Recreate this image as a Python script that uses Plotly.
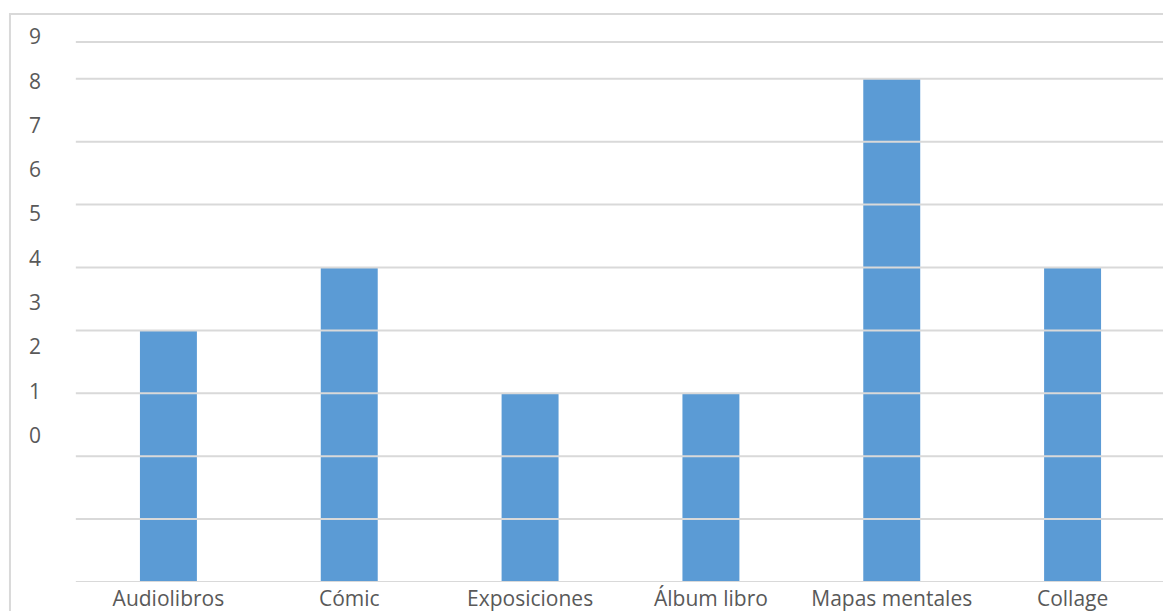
import plotly.graph_objects as go

categories = ["Audiolibros", "Cómic", "Exposiciones", "Álbum libro", "Mapas mentales", "Collage"]
values = [4, 5, 3, 3, 8, 5]
grid_vals = [0, 1, 2, 3, 4, 5, 6, 7, 8, 8.585]
label_vals = [0, 1, 2, 3, 4, 5, 6, 7, 8, 9]
label_text = ["0", "1", "2", "3", "4", "5", "6", "7", "8", "9"]

FONT = "Open Sans"
TXT = "#595959"
GRID = "#d9d9d9"

fig = go.Figure()
fig.add_trace(go.Bar(x=categories, y=values, marker=dict(color="#5b9bd5", line=dict(width=0)),
                     width=0.315, yaxis="y", showlegend=False))
fig.add_trace(go.Scatter(x=[categories[0]], y=[0], yaxis="y2", mode="markers",
                         marker=dict(opacity=0), showlegend=False, hoverinfo="skip"))

shapes = [dict(type="rect", xref="paper", yref="paper", x0=-0.0627, x1=1.05,
               y0=-0.3, y1=1.029, line=dict(color=GRID, width=2), layer="below")]
for g in grid_vals:
    shapes.append(dict(type="line", xref="paper", yref="y", x0=-0.002, x1=1, y0=g, y1=g,
                       line=dict(color=GRID, width=2), layer="above"))

fig.update_layout(
    width=1163, height=611,
    margin=dict(l=78, r=0, t=30, b=29, autoexpand=False),
    paper_bgcolor="white", plot_bgcolor="white",
    font=dict(family=FONT, color=TXT, size=21),
    xaxis=dict(type="category", showgrid=False, showline=False, ticks="", automargin=False,
               tickfont=dict(size=21, color=TXT), ticklabelstandoff=2),
    yaxis=dict(range=[0, 8.776], showticklabels=False, showgrid=False,
               zeroline=False, automargin=False),
    yaxis2=dict(overlaying="y", side="left", range=[-3.308, 9.158],
                tickvals=label_vals, ticktext=label_text, showgrid=False,
                zeroline=False, showline=False, ticks="", automargin=False,
                tickfont=dict(size=21, color=TXT), ticklabelstandoff=36),
    shapes=shapes,
    bargap=0.5,
)

fig.write_html("out.html", config={"displayModeBar": False},
               post_script="document.body.style.margin='0';document.body.style.overflow='hidden';")
